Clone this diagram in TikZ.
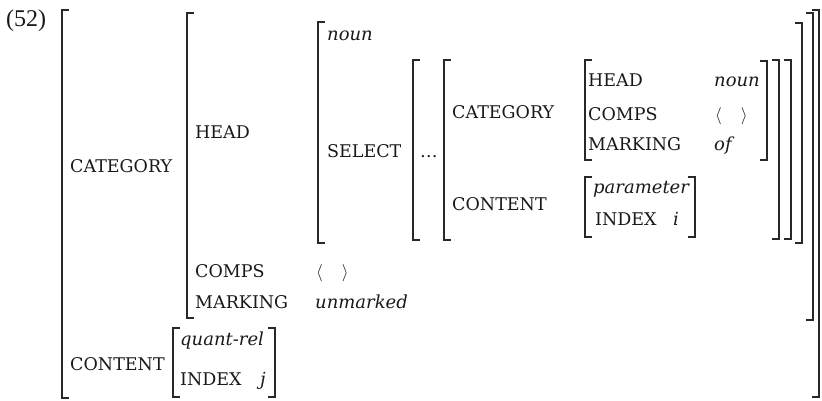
\documentclass[tikz,border=0pt]{standalone}
\usepackage{fontspec}
\setmainfont{DejaVu Serif}
\newfontfamily\timesfont{Liberation Serif}
\definecolor{ink}{RGB}{40,40,40}
\definecolor{txt}{RGB}{25,25,25}
\newcommand\lbr[3]{\draw[brk] (#1+7,#2) -- (#1,#2) -- (#1,#3) -- (#1+7,#3);}
\newcommand\rbr[3]{\draw[brk] (#1-7,#2) -- (#1,#2) -- (#1,#3) -- (#1-7,#3);}
\begin{document}
\begin{tikzpicture}[x=1pt,y=-1pt,
  brk/.style={line width=1.6pt, draw=ink},
  lab/.style={anchor=base west, inner sep=0pt, text=txt, font=\fontsize{17.5}{20}\selectfont},
  val/.style={lab, font=\fontsize{18}{20}\selectfont\itshape},
  angl/.style={lab, font=\fontsize{19}{22}\selectfont}]
\useasboundingbox (0,0) rectangle (822,400);
% brackets
\lbr{62}{10}{398} \rbr{819}{10}{397}
\lbr{187}{13}{318} \rbr{813}{13}{320}
\lbr{318}{22}{243} \rbr{802}{23}{243}
\lbr{413}{60}{240} \rbr{791}{60}{239}
\lbr{444}{60}{240} \rbr{779}{60}{239}
\lbr{585}{60}{160} \rbr{767}{61}{160}
\lbr{585}{177}{237} \rbr{695}{177}{237}
\lbr{173}{328}{397} \rbr{275}{328}{397}
% texts
\node[anchor=base west, inner sep=0pt, text=txt, font=\timesfont\fontsize{24}{28}\selectfont] (num) at (6,26) {(52)};
\node[lab] (cat) at (70,172) {CATEGORY};
\node[lab] (head) at (195,138) {HEAD};
\node[val] (noun) at (327,40) {noun};
\node[lab] (select) at (327,157) {SELECT};
\node[lab] (dots) at (420,157) {…};
\node[lab] (icat) at (452,118) {CATEGORY};
\node[lab] (icont) at (452,210) {CONTENT};
\node[lab] (ihead) at (588,86) {HEAD};
\node[val] (inoun) at (714,86) {noun};
\node[lab] (icomps) at (588,120) {COMPS};
\node[angl] (iang) at (715,120) {$\langle\quad\rangle$};
\node[lab] (imark) at (588,150) {MARKING};
\node[val] (iof) at (714,150) {of};
\node[val] (param) at (593,193) {parameter};
\node[lab] (iindex) at (595,225) {INDEX};
\node[val] (ii) at (673,225) {i};
\node[lab] (comps) at (195,277) {COMPS};
\node[angl] (ang) at (316,277) {$\langle\quad\rangle$};
\node[lab] (mark) at (195,308) {MARKING};
\node[val] (unm) at (315,308) {unmarked};
\node[lab] (cont) at (70,370) {CONTENT};
\node[val] (qrel) at (180,345) {quant-rel};
\node[lab] (index) at (180,385) {INDEX};
\node[val] (jj) at (260,385) {j};
\end{tikzpicture}
\end{document}
